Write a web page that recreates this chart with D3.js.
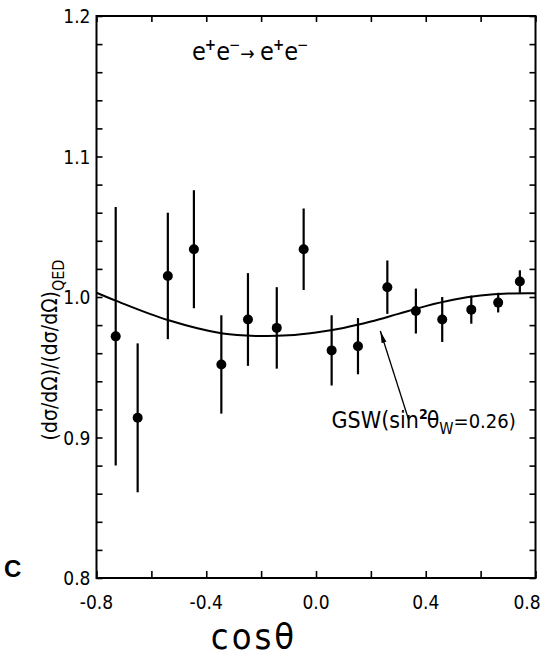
<!DOCTYPE html>
<html><head><meta charset="utf-8">
<script src="https://cdn.jsdelivr.net/npm/d3@7"></script>
<style>body{margin:0;background:#fff}svg{display:block}</style>
</head><body><svg id="c" width="544" height="657"></svg>
<script>
const cosTheta = [-0.73,-0.65,-0.54,-0.445,-0.345,-0.248,-0.143,-0.045,0.057,0.153,0.26,0.364,0.46,0.566,0.664,0.743];
const ratio    = [0.972,0.914,1.015,1.034,0.952,0.984,0.978,1.034,0.962,0.965,1.007,0.990,0.984,0.991,0.996,1.011];
const errs     = [0.092,0.053,0.045,0.042,0.035,0.033,0.029,0.029,0.025,0.020,0.019,0.016,0.016,0.010,0.007,0.008];
const gswX = [-0.8,-0.73,-0.54,-0.34,-0.2,-0.1,0.0,0.1,0.2,0.3,0.4,0.5,0.6,0.7,0.8];
const gswY = [1.003,0.9974,0.9836,0.974,0.9722,0.9727,0.9748,0.978,0.9825,0.988,0.9935,0.998,1.001,1.0025,1.0027];
const xTickLabels = ["-0.8","-0.4","0.0","0.4","0.8"];
const yTickLabels = ["0.8","0.9","1.0","1.1","1.2"];

const FONT = "'DejaVu Sans Condensed','Liberation Sans Narrow',sans-serif";
const svg = d3.select("#c");
const L=96.5, R=535.5, T=16, B=578;
const x = d3.scaleLinear().domain([-0.8,0.8]).range([L,R]);
const y = d3.scaleLinear().domain([0.8,1.2]).range([B,T]);

const g = svg.append("g");
g.append("rect").attr("x",L).attr("y",T).attr("width",R-L).attr("height",B-T)
 .attr("fill","none").attr("stroke","#000").attr("stroke-width",2);

const xt = d3.range(-0.8,0.8001,0.2);
const yt = d3.range(0.8,1.2001,0.02);
const tk = (sel, ticks) => sel.call(ticks).call(s=>s.select(".domain").remove())
  .call(s=>s.selectAll("line").attr("stroke","#000").attr("stroke-width",1.6));
tk(g.append("g").attr("transform",`translate(0,${B})`), d3.axisBottom(x).tickValues(xt).tickSize(-7).tickFormat(""));
tk(g.append("g").attr("transform",`translate(0,${T})`), d3.axisTop(x).tickValues(xt).tickSize(-6).tickFormat(""));
tk(g.append("g").attr("transform",`translate(${L},0)`), d3.axisLeft(y).tickValues(yt).tickSize(-6).tickFormat(""));
tk(g.append("g").attr("transform",`translate(${R},0)`), d3.axisRight(y).tickValues(yt).tickSize(-6).tickFormat(""));

g.selectAll(".xl").data(xTickLabels).join("text")
 .attr("x",d=>Math.min(x(+d), 527)).attr("y",B+31).attr("text-anchor","middle")
 .attr("font-family",FONT).attr("font-size",19).text(d=>d);
g.selectAll(".yl").data(yTickLabels).join("text")
 .attr("x",L-6).attr("y",d=>y(+d)+7).attr("text-anchor","end")
 .attr("font-family",FONT).attr("font-size",19).text(d=>d);

const pts = gswX.map((v,i)=>[v,gswY[i]]);
g.append("path").datum(pts)
 .attr("d",d3.line().x(d=>x(d[0])).y(d=>y(d[1])).curve(d3.curveCatmullRom.alpha(0.5)))
 .attr("fill","none").attr("stroke","#000").attr("stroke-width",2);

const data = cosTheta.map((c,i)=>({c,v:ratio[i],e:errs[i]}));
g.selectAll(".eb").data(data).join("line")
 .attr("x1",d=>x(d.c)).attr("x2",d=>x(d.c))
 .attr("y1",d=>y(d.v+d.e)).attr("y2",d=>y(d.v-d.e))
 .attr("stroke","#000").attr("stroke-width",2.2);
g.selectAll(".pt").data(data).join("circle")
 .attr("cx",d=>x(d.c)).attr("cy",d=>y(d.v)).attr("r",5).attr("fill","#000");

const ax1=x(0.338), ay1=y(0.9125), ax2=x(0.2345), ay2=y(0.9758);
svg.append("defs").append("marker").attr("id","ah").attr("viewBox","0 0 12 6")
 .attr("refX",12).attr("refY",3).attr("markerWidth",12).attr("markerHeight",6)
 .attr("markerUnits","userSpaceOnUse").attr("orient","auto")
 .append("path").attr("d","M0,0.5 L12,3 L0,5.5 Z").attr("fill","#000");
g.append("line").attr("x1",ax1).attr("y1",ay1).attr("x2",ax2).attr("y2",ay2)
 .attr("stroke","#000").attr("stroke-width",1.3).attr("marker-end","url(#ah)");

const gl = g.append("text").attr("x",x(0.0565)).attr("y",y(0.9)-10)
 .attr("font-family",FONT).attr("font-size",23);
gl.append("tspan").text("GSW(sin");
gl.append("tspan").attr("dy",-9).attr("font-size",14).attr("font-weight","bold").text("2");
gl.append("tspan").attr("dy",9).attr("dx",-1).text("θ");
gl.append("tspan").attr("dy",6).attr("font-size",16).text("W");
gl.append("tspan").attr("dy",-6).attr("font-size",20).text("=0.26)");

const tt = g.append("text").attr("x",192).attr("y",60)
 .attr("font-family",FONT).attr("font-size",25);
const parts = [["e",0,25],["+",-10,15],["e",10,25],["−",-10,15],["→ ",10,19],["e",0,25],["+",-10,15],["e",10,25],["−",-10,15]];
parts.forEach(p=>tt.append("tspan").attr("dy",p[1]).attr("font-size",p[2])
  .attr("font-weight",p[0]==="+"?"bold":null).attr("dx",(p[0]==="+"||p[0]==="−")?-1:null).text(p[0]));

const yl = g.append("text").attr("transform","translate(57,350) rotate(-90)")
 .attr("text-anchor","middle").attr("font-family",FONT).attr("font-size",21);
yl.append("tspan").text("(dσ/dΩ)/(dσ/dΩ)");
yl.append("tspan").attr("dy",7).attr("font-size",16).text("QED");

g.append("text").attr("x",254).attr("y",649).attr("text-anchor","middle")
 .attr("font-family",FONT).attr("font-size",36).attr("letter-spacing",3).text("cosθ");

g.append("text").attr("x",4).attr("y",577).attr("font-family","'Liberation Sans',Arial,sans-serif")
 .attr("font-size",24).attr("font-weight","bold").text("C");
</script></body></html>
